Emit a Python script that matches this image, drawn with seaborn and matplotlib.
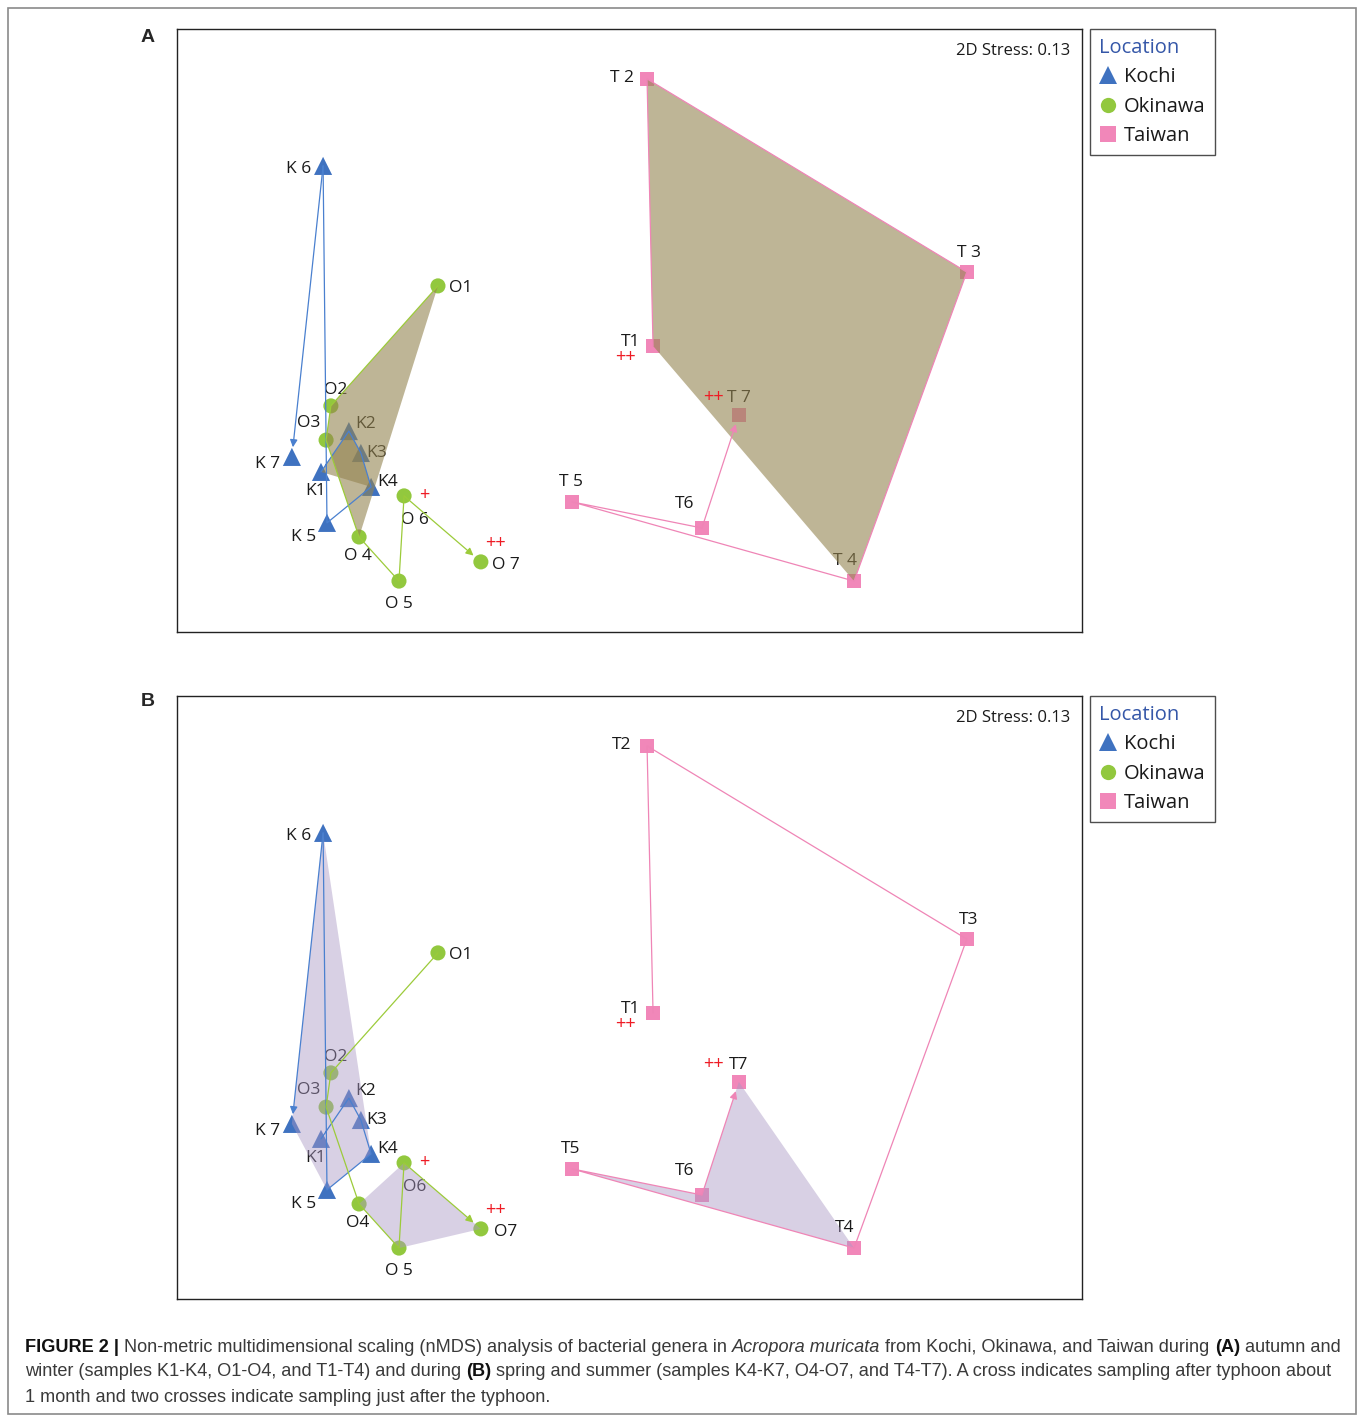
import matplotlib
matplotlib.use("Agg")
import matplotlib.pyplot as plt
from matplotlib import font_manager
from matplotlib.lines import Line2D
from matplotlib.patches import Rectangle
import seaborn as sns
import pandas as pd

# nMDS coordinates (same ordination in both panels)
locations = ["Kochi", "Okinawa", "Taiwan"]
prefixes = {"Kochi": "K", "Okinawa": "O", "Taiwan": "T"}
kochi_x = [-1.030, -0.937, -0.897, -0.863, -1.010, -1.023, -1.127]
kochi_y = [-0.473, -0.337, -0.410, -0.523, -0.643, 0.547, -0.423]
okinawa_x = [-0.640, -0.997, -1.013, -0.903, -0.770, -0.753, -0.497]
okinawa_y = [0.147, -0.253, -0.367, -0.690, -0.837, -0.553, -0.773]
taiwan_x = [0.077, 0.057, 1.123, 0.747, -0.193, 0.240, 0.363]
taiwan_y = [-0.053, 0.837, 0.193, -0.837, -0.573, -0.660, -0.283]
stress = 0.13

# point labels as printed in each panel
labels_a = {"K1": "K1", "K2": "K2", "K3": "K3", "K4": "K4", "K5": "K 5", "K6": "K 6", "K7": "K 7",
            "O1": "O1", "O2": "O2", "O3": "O3", "O4": "O 4", "O5": "O 5", "O6": "O 6", "O7": "O 7",
            "T1": "T1", "T2": "T 2", "T3": "T 3", "T4": "T 4", "T5": "T 5", "T6": "T6", "T7": "T 7"}
labels_b = {"K1": "K1", "K2": "K2", "K3": "K3", "K4": "K4", "K5": "K 5", "K6": "K 6", "K7": "K 7",
            "O1": "O1", "O2": "O2", "O3": "O3", "O4": "O4", "O5": "O 5", "O6": "O6", "O7": "O7",
            "T1": "T1", "T2": "T2", "T3": "T3", "T4": "T4", "T5": "T5", "T6": "T6", "T7": "T7"}
# typhoon marks: + about 1 month after, ++ just after
typhoon = {"O6": "+", "O7": "++", "T1": "++", "T7": "++"}
# shaded groups: A = samples 1-4, B = samples 4-7
groups_a = {"Kochi": ["K1", "K2", "K3", "K4"], "Okinawa": ["O1", "O2", "O3", "O4"],
            "Taiwan": ["T1", "T2", "T3", "T4"]}
groups_b = {"Kochi": ["K6", "K7", "K5", "K4"], "Okinawa": ["O4", "O5", "O7", "O6"],
            "Taiwan": ["T4", "T5", "T6", "T7"]}

rows = []
for loc, xs, ys in [("Kochi", kochi_x, kochi_y), ("Okinawa", okinawa_x, okinawa_y),
                    ("Taiwan", taiwan_x, taiwan_y)]:
    for i, (x, y) in enumerate(zip(xs, ys)):
        rows.append({"sample": f"{prefixes[loc]}{i + 1}", "Location": loc, "x": x, "y": y})
df = pd.DataFrame(rows)
pos = {r.sample: (r.x, r.y) for r in df.itertuples()}

# styling
marker_col = {"Kochi": "#3f72c0", "Okinawa": "#92c83e", "Taiwan": "#f187b9"}
line_col = {"Kochi": "#4a80cf", "Okinawa": "#9ccb3a", "Taiwan": "#ef85b6"}
markers = {"Kochi": "^", "Okinawa": "o", "Taiwan": "s"}
msizes = {"Kochi": 170, "Okinawa": 118, "Taiwan": 100}
label_off = {"K1": (-5, -19), "K2": (17, 7), "K3": (16, 0), "K4": (17, 5), "K5": (-23, -14),
             "K6": (-24, -3), "K7": (-24, -7), "O1": (23, -2), "O2": (5, 16), "O3": (-17, 17),
             "O4": (-1, -19), "O5": (0, -23), "O6": (11, -24), "O7": (25, -3), "T1": (-22, 4),
             "T2": (-25, 1), "T3": (2, 19), "T4": (-9, 20), "T5": (-1, 20), "T6": (-17, 24),
             "T7": (0, 17)}
mark_off = {"O6": (20, 1), "O7": (15, 19), "T1": (-28, -11), "T7": (-25, 18)}

sns.set_theme(style="white")
lab_font = ["Open Sans", "DejaVu Sans"]
plt.rcParams["font.family"] = lab_font

W, H = 1360, 1415
fig = plt.figure(figsize=(W / 100, H / 100), dpi=100)


def draw_panel(ax, labels, groups, fill_col, fill_alpha):
    sns.scatterplot(data=df, x="x", y="y", hue="Location", style="Location", size="Location",
                    palette=marker_col, markers=markers, sizes=msizes, linewidth=0,
                    legend=False, ax=ax, zorder=2)
    for s in df["sample"]:
        dx, dy = label_off[s]
        ax.annotate(labels[s], pos[s], xytext=(dx, dy), textcoords="offset pixels",
                    ha="center", va="center", fontsize=12.5, color="#1a1a1a", zorder=2.5)
    for loc, members in groups.items():
        ax.fill([pos[m][0] for m in members], [pos[m][1] for m in members],
                color=fill_col, alpha=fill_alpha, lw=0, zorder=3)
    for loc in locations:
        sub = df[df["Location"] == loc]
        xs, ys = list(sub["x"]), list(sub["y"])
        ax.plot(xs[:6], ys[:6], color=line_col[loc], lw=0.9, zorder=4)
        ax.annotate("", xy=(xs[6], ys[6]), xytext=(xs[5], ys[5]),
                    arrowprops=dict(arrowstyle="-|>", color=line_col[loc], lw=0.9,
                                    shrinkA=0, shrinkB=7, mutation_scale=11), zorder=4)
    for s, m in typhoon.items():
        dx, dy = mark_off[s]
        ax.annotate(m, pos[s], xytext=(dx, dy), textcoords="offset pixels", ha="center",
                    va="center", fontsize=13, color="#ee1c25", zorder=5)
    ax.text(0.987, 0.976, f"2D Stress: {stress}", transform=ax.transAxes, ha="right",
            va="top", fontsize=12, color="#1a1a1a")
    ax.set_xlim(-1.51, 1.507)
    ax.set_ylim(-1.0067, 1.0033)
    ax.set_xticks([])
    ax.set_yticks([])
    ax.set_xlabel("")
    ax.set_ylabel("")
    for sp in ax.spines.values():
        sp.set_color("#222222")
        sp.set_linewidth(1.0)


def legend_for(top):
    handles = [Line2D([], [], marker=markers[l], color=marker_col[l], ls="", markersize=ms,
                      markeredgewidth=0) for l, ms in zip(locations, [13, 11, 11])]
    leg = fig.legend(handles, locations, title="Location", loc="upper left",
                     bbox_to_anchor=(1090 / W, 1 - top / H), fontsize=14.5, title_fontsize=14.5,
                     frameon=True, fancybox=False, borderaxespad=0, handlelength=0.9,
                     handletextpad=0.35, labelspacing=0.46, borderpad=0.45, alignment="left")
    leg.get_frame().set_edgecolor("#222222")
    leg.get_frame().set_linewidth(1.0)
    leg.get_title().set_color("#3557a8")
    for t in leg.get_texts():
        t.set_color("#1a1a1a")


axA = fig.add_axes([177 / W, 1 - 632 / H, 905 / W, 603 / H])
draw_panel(axA, labels_a, groups_a, "#948450", 0.6)
axB = fig.add_axes([177 / W, 1 - 1299 / H, 905 / W, 603 / H])
draw_panel(axB, labels_b, groups_b, "#a997c4", 0.45)
legend_for(29)
legend_for(696)

bold_font = ["Liberation Sans", "DejaVu Sans"]
fig.text(148 / W, 1 - 37 / H, "A", fontsize=14, fontweight="bold", family=bold_font,
         ha="center", va="center")
fig.text(148 / W, 1 - 702 / H, "B", fontsize=14, fontweight="bold", family=bold_font,
         ha="center", va="center")

# outer frame
fig.add_artist(Rectangle((8 / W, 1 - 1414 / H), 1348 / W, 1406 / H, transform=fig.transFigure,
                         fill=False, edgecolor="#8a8a8a", lw=1.2))

# caption with mixed styles
names = {f.name for f in font_manager.fontManager.ttflist}
cap_font = ["Liberation Sans Narrow"] if "Liberation Sans Narrow" in names else ["Liberation Sans"]
cap_lines = [
    [("FIGURE 2 | ", "bold", "normal"),
     ("Non-metric multidimensional scaling (nMDS) analysis of bacterial genera in ", "normal", "normal"),
     ("Acropora muricata", "normal", "italic"),
     (" from Kochi, Okinawa, and Taiwan during ", "normal", "normal"),
     ("(A)", "bold", "normal"), (" autumn and", "normal", "normal")],
    [("winter (samples K1-K4, O1-O4, and T1-T4) and during ", "normal", "normal"),
     ("(B)", "bold", "normal"),
     (" spring and summer (samples K4-K7, O4-O7, and T4-T7). A cross indicates sampling after typhoon about",
      "normal", "normal")],
    [("1 month and two crosses indicate sampling just after the typhoon.", "normal", "normal")],
]
renderer = fig.canvas.get_renderer()


def line_width(runs, size):
    total = 0
    for txt, wt, st in runs:
        t = fig.text(0, 0, txt, fontsize=size, fontweight=wt, fontstyle=st, family=cap_font)
        total += t.get_window_extent(renderer).width
        t.remove()
    return total


cap_size = 10 * 1315 / line_width(cap_lines[1], 10)
for runs, yc in zip(cap_lines, [1347, 1372, 1397]):
    x = 25
    for txt, wt, st in runs:
        col = "#111111" if wt == "bold" else "#3a3a3a"
        t = fig.text(x / W, 1 - yc / H, txt, fontsize=cap_size, fontweight=wt, fontstyle=st,
                     family=cap_font, ha="left", va="center", color=col)
        x += t.get_window_extent(renderer).width

fig.savefig("out.png", dpi=100)
